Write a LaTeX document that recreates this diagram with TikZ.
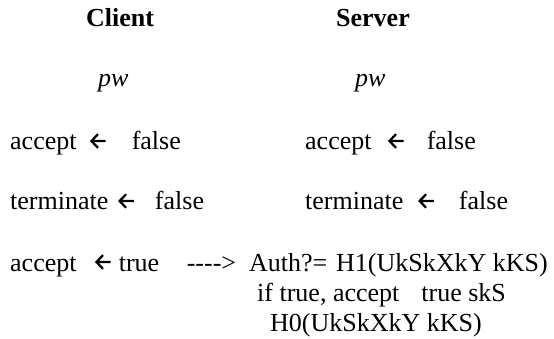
\documentclass[tikz,border=0pt]{standalone}
\usepackage{fontspec}
\setmainfont{Liberation Serif}
\newcommand{\larr}{\tikz[x=1pt,y=1pt,baseline=0pt]{\path (0,0) (15,0);\draw[line width=2.2pt,line cap=butt,line join=miter] (15.5,9) -- (1.2,9) (7.8,15.8) -- (1.2,9) -- (7.8,2.2);}}
\newcommand{\hy}{-\kern0pt }
\begin{document}
\begin{tikzpicture}[x=1pt,y=-1pt,
  txt/.style={anchor=base west,inner sep=0pt,font=\fontsize{26}{30}\selectfont},
  head/.style={txt,font=\fontsize{26}{30}\selectfont\bfseries},
  var/.style={txt,font=\fontsize{26}{30}\selectfont\itshape}]
\useasboundingbox (0,0) rectangle (554,339);
\node[head] (client) at (86,27) {Client};
\node[head] (server) at (336,27) {Server};
\node[var] (cpw) at (98,87) {pw};
\node[var] (spw) at (355,87) {pw};
\node[txt] (cacc) at (10,150) {accept\hspace{13.6pt}\larr\hspace{25pt}false};
\node[txt] (sacc) at (305,150) {accept\hspace{16.6pt}\larr\hspace{22pt}false};
\node[txt] (cterm) at (10,210) {terminate\hspace{10pt}\larr\hspace{20pt}false};
\node[txt] (sterm) at (305,210) {terminate\hspace{15pt}\larr\hspace{24pt}false};
\node[txt] (cfin) at (10,271) {accept\hspace{18.6pt}\larr\hspace{7pt}true\hspace{27.6pt}\hy\hy\hy\hy>};
\node[txt] (auth) at (249,271) {Auth?=\hspace{8.8pt}H1(UkSkXkY kKS)};
\node[txt] (iftrue) at (257,301) {if true, accept\hspace{22pt}true skS};
\node[txt] (hzero) at (270,331) {H0(UkSkXkY kKS)};
\end{tikzpicture}
\end{document}
